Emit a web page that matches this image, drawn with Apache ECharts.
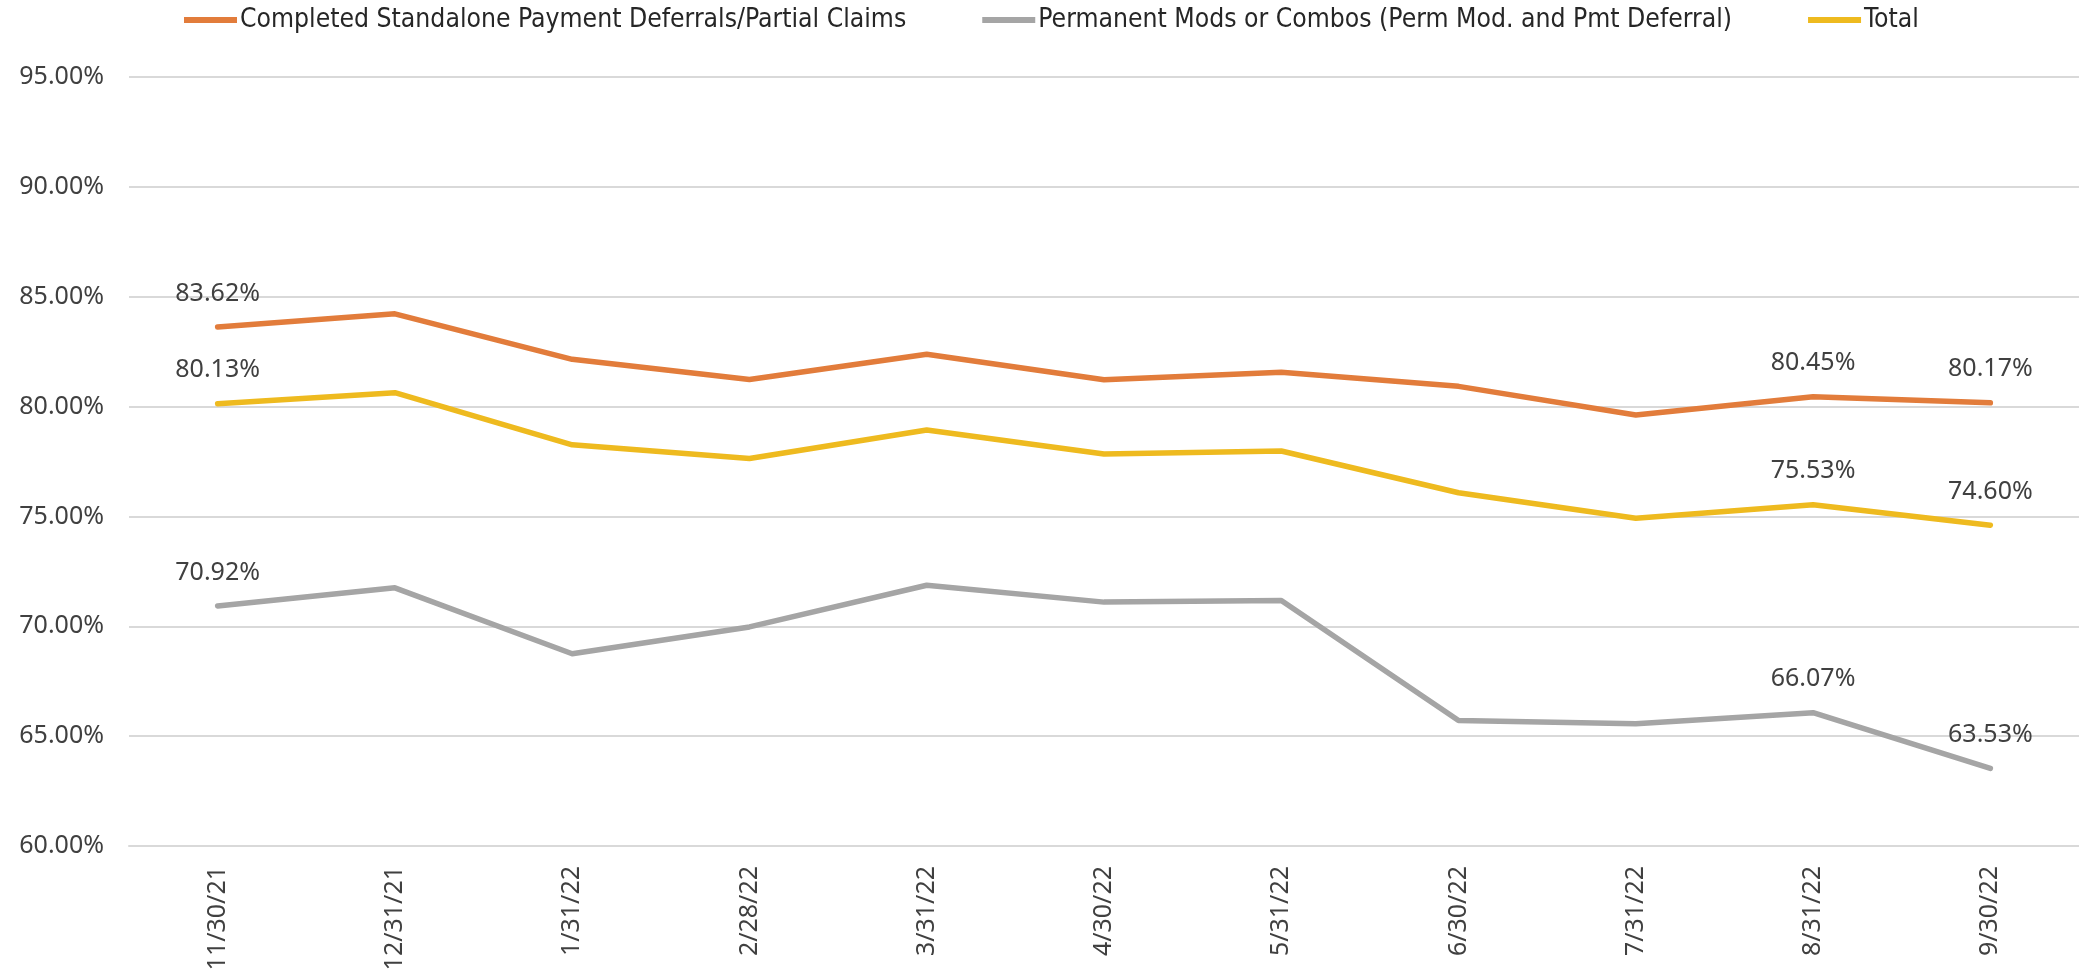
<!DOCTYPE html>
<html>
<head>
<meta charset="utf-8">
<script src="https://cdn.jsdelivr.net/npm/echarts@6/dist/echarts.min.js"></script>
<style>
  html, body { margin: 0; padding: 0; background: #ffffff; }
  #chart { width: 2079px; height: 978px; }
</style>
</head>
<body>
<div id="chart"></div>
<script>
// Month-end reporting dates
const categories = ['11/30/21', '12/31/21', '1/31/22', '2/28/22', '3/31/22', '4/30/22',
                    '5/31/22', '6/30/22', '7/31/22', '8/31/22', '9/30/22'];

// Performance rates (%) by workout type
const standalone = [83.62, 84.22, 82.15, 81.23, 82.38, 81.22, 81.56, 80.92, 79.62, 80.45, 80.17];
const permanent  = [70.92, 71.75, 68.75, 69.97, 71.87, 71.10, 71.17, 65.71, 65.56, 66.07, 63.53];
const total      = [80.13, 80.63, 78.26, 77.64, 78.93, 77.84, 77.98, 76.08, 74.92, 75.53, 74.60];

const seriesNames = [
  'Completed Standalone Payment Deferrals/Partial Claims',
  'Permanent Mods or Combos (Perm Mod. and Pmt Deferral)',
  'Total'
];

// Value axis range and step
const yMin = 60;
const yMax = 95;
const yStep = 5;

// Points that carry a value label
const labelledPoints = [0, 9, 10];

const pct = v => v.toFixed(2) + '%';
const textFont = "'Noto Sans', 'Open Sans', sans-serif";
const legendFont = "'Liberation Sans Narrow', 'DejaVu Sans Condensed', 'Liberation Sans', sans-serif";

function withLabels(values) {
  return values.map((v, i) => ({ value: v, label: { show: labelledPoints.includes(i) } }));
}

function lineSeries(name, values, color) {
  return {
    name: name,
    type: 'line',
    data: withLabels(values),
    symbol: 'circle',
    symbolSize: 0,
    showSymbol: true,
    lineStyle: { color: color, width: 5.5, cap: 'round', join: 'round' },
    itemStyle: { color: color },
    label: {
      show: false,
      position: 'top',
      distance: 21,
      formatter: p => pct(p.value),
      color: '#404040',
      fontFamily: textFont,
      fontSize: 25
    },
    emphasis: { disabled: true },
    animation: false
  };
}

const chart = echarts.init(document.getElementById('chart'));
chart.setOption({
  backgroundColor: '#ffffff',
  animation: false,
  legend: {
    left: 179,
    top: 2,
    icon: 'rect',
    itemWidth: 53,
    itemHeight: 6,
    itemGap: 76,
    textStyle: { fontFamily: legendFont, fontSize: 26.3, color: '#262626', padding: [0, 0, 0, -2] },
    data: seriesNames
  },
  grid: { left: 129, top: 77, width: 1953, height: 769, containLabel: false },
  xAxis: {
    type: 'category',
    data: categories,
    boundaryGap: true,
    axisLine: { show: true, lineStyle: { color: '#d9d9d9', width: 2 } },
    axisTick: { show: false },
    axisLabel: {
      rotate: 90,
      margin: 20,
      interval: 0,
      color: '#404040',
      fontFamily: textFont,
      fontSize: 25
    }
  },
  yAxis: {
    type: 'value',
    min: yMin,
    max: yMax,
    interval: yStep,
    axisLine: { show: false },
    axisTick: { show: false },
    splitLine: { lineStyle: { color: '#d9d9d9', width: 2 } },
    axisLabel: {
      margin: 25,
      formatter: v => pct(v),
      color: '#404040',
      fontFamily: textFont,
      fontSize: 25
    }
  },
  series: [
    lineSeries(seriesNames[0], standalone, '#E27C3B'),
    lineSeries(seriesNames[1], permanent, '#A5A5A5'),
    lineSeries(seriesNames[2], total, '#EEBA1F')
  ]
});
</script>
</body>
</html>
